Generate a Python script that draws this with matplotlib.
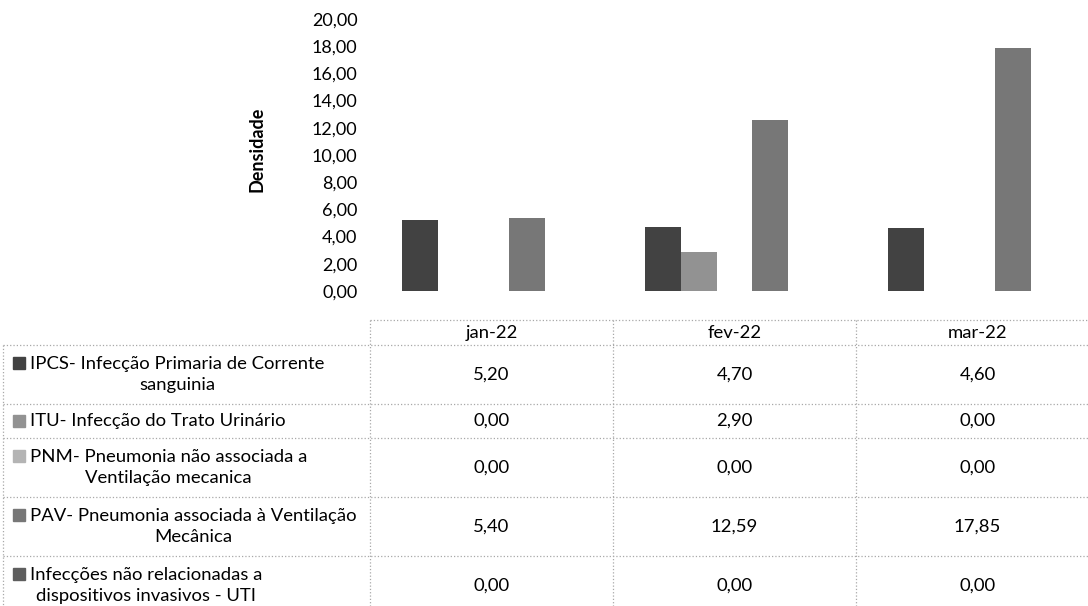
import matplotlib.pyplot as plt
from matplotlib.patches import Rectangle
import numpy as np

plt.rcParams['font.family'] = ['Lato', 'DejaVu Sans']

months = ['jan-22', 'fev-22', 'mar-22']
series = ['IPCS- Infecção Primaria de Corrente\nsanguinia',
          'ITU- Infecção do Trato Urinário',
          'PNM- Pneumonia não associada a\nVentilação mecanica',
          'PAV- Pneumonia associada à Ventilação\nMecânica',
          'Infecções não relacionadas a\ndispositivos invasivos - UTI']
ipcs = [5.20, 4.70, 4.60]
itu = [0.00, 2.90, 0.00]
pnm = [0.00, 0.00, 0.00]
pav = [5.40, 12.59, 17.85]
outras = [0.00, 0.00, 0.00]
values = [ipcs, itu, pnm, pav, outras]
colors = ['#424242', '#929292', '#b4b4b4', '#777777', '#5e5e5e']

W, H = 1088, 606
fig = plt.figure(figsize=(W / 100, H / 100), dpi=100)

# table drawn in pixel coordinates
tax = fig.add_axes([0, 0, 1, 1])
tax.set_xlim(0, W)
tax.set_ylim(H, 0)
tax.axis('off')

col_x = [370, 613, 856, 1099]
row_y = [345, 404, 438, 497, 556, 615]
lc = '#a8a8a8'
tax.plot([col_x[0], col_x[-1]], [320, 320], ls=':', color=lc, lw=0.9)
for y in row_y:
    tax.plot([3, col_x[-1]], [y, y], ls=':', color=lc, lw=0.9)
tax.plot([3, 3], [345, 615], ls=':', color=lc, lw=0.9)
for x in col_x:
    tax.plot([x, x], [320, 615], ls=':', color=lc, lw=0.9)

fs = 13.3
for j, m in enumerate(months):
    tax.text((col_x[j] + col_x[j + 1]) / 2, 333, m, ha='center', va='center', fontsize=fs)

for i, name in enumerate(series):
    yc = (row_y[i] + row_y[i + 1]) / 2
    first_line_y = yc - (12 if '\n' in name else 0)
    tax.add_patch(Rectangle((13, first_line_y - 6), 12, 12, color=colors[i]))
    tax.text(30, yc, name, ha='left', va='center', fontsize=fs, multialignment='center',
             linespacing=1.4)
    for j in range(3):
        tax.text((col_x[j] + col_x[j + 1]) / 2, yc, f'{values[i][j]:.2f}'.replace('.', ','),
                 ha='center', va='center', fontsize=fs)

# bar chart
ax = fig.add_axes([370 / W, 1 - 291 / H, (col_x[-1] - 370) / W, 272 / H])
ax.patch.set_alpha(0)
x = np.arange(len(months))
w = 0.148
for i in range(len(series)):
    ax.bar(x + (i - 2) * w, values[i], width=w, color=colors[i])
ax.set_xlim(-0.5, 2.5)
ax.set_ylim(0, 20)
ax.set_yticks(np.arange(0, 21, 2))
ax.set_yticklabels([f'{v:.2f}'.replace('.', ',') for v in np.arange(0, 21, 2)], fontsize=13)
ax.set_xticks([])
ax.tick_params(axis='y', length=0, pad=9)
for s in ax.spines.values():
    s.set_visible(False)
ax.set_ylabel('Densidade', fontsize=13, fontweight='bold')
ax.yaxis.set_label_coords(-0.144, 0.52)

fig.savefig('out.png', dpi=100)
